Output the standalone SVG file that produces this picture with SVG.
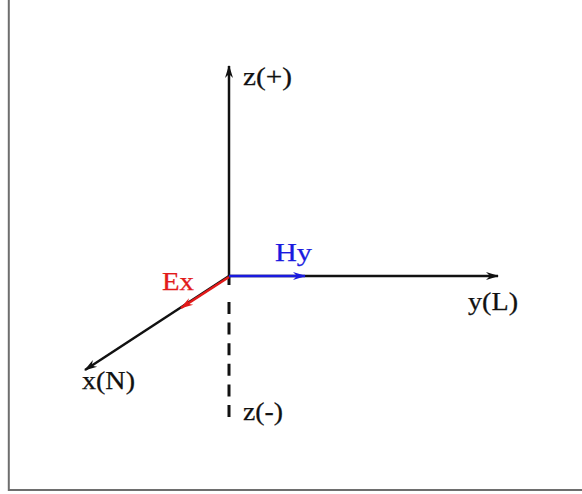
<svg xmlns="http://www.w3.org/2000/svg" width="582" height="494" viewBox="0 0 582 494">
<style>
.lbl{font-family:"Liberation Serif","Times New Roman",serif;font-size:25px;stroke-width:0.25;}
.ax{fill:none;stroke:#111;stroke-width:2.5;}
</style>
<defs>
<marker id="ahk" markerUnits="userSpaceOnUse" markerWidth="14" markerHeight="10" refX="12" refY="5" orient="auto">
<path d="M0,1 L13,5 L0,9 L4,5 z" fill="#111"/>
</marker>
<marker id="ahb" markerUnits="userSpaceOnUse" markerWidth="14" markerHeight="10" refX="12" refY="5" orient="auto">
<path d="M0,1 L13,5 L0,9 L4,5 z" fill="#1a1adf"/>
</marker>
<marker id="ahr" markerUnits="userSpaceOnUse" markerWidth="14" markerHeight="10" refX="12" refY="5" orient="auto">
<path d="M0,1 L13,5 L0,9 L4,5 z" fill="#e21a1a"/>
</marker>
</defs>
<rect width="582" height="494" fill="#fff"/>
<path d="M8.8,0 V490 H582" fill="none" stroke="#6e6e6e" stroke-width="2"/>
<g id="connectors">
<line class="ax" x1="229" y1="277" x2="229" y2="66" marker-end="url(#ahk)"/>
<line class="ax" x1="229" y1="276" x2="498" y2="276" marker-end="url(#ahk)"/>
<line class="ax" x1="229" y1="276" x2="85" y2="370" marker-end="url(#ahk)"/>
<line x1="229" y1="276" x2="229" y2="285" stroke="#111" stroke-width="3"/>
<line x1="229" y1="302" x2="229" y2="417" stroke="#111" stroke-width="3" stroke-dasharray="12,8.6"/>
<line x1="229" y1="276" x2="305" y2="276" stroke="#1a1adf" stroke-width="2.6" marker-end="url(#ahb)"/>
<line x1="229" y1="277" x2="181" y2="308" stroke="#e21a1a" stroke-width="2.6" marker-end="url(#ahr)"/>
</g>
<g id="z-plus"><text class="lbl" x="243" y="85" fill="#111" stroke="#111" textLength="49" lengthAdjust="spacingAndGlyphs">z(+)</text></g>
<g id="z-minus"><text class="lbl" x="243" y="420" fill="#111" stroke="#111" textLength="40" lengthAdjust="spacingAndGlyphs">z(-)</text></g>
<g id="y-L"><text class="lbl" x="468" y="310" fill="#111" stroke="#111" textLength="50" lengthAdjust="spacingAndGlyphs">y(L)</text></g>
<g id="x-N"><text class="lbl" x="82" y="389" fill="#111" stroke="#111" textLength="53" lengthAdjust="spacingAndGlyphs">x(N)</text></g>
<g id="Hy"><text class="lbl" x="275" y="261" fill="#1a1adf" stroke="#1a1adf" textLength="37" lengthAdjust="spacingAndGlyphs">Hy</text></g>
<g id="Ex"><text class="lbl" x="162" y="290" fill="#e21a1a" stroke="#e21a1a" textLength="32" lengthAdjust="spacingAndGlyphs">Ex</text></g>
</svg>
